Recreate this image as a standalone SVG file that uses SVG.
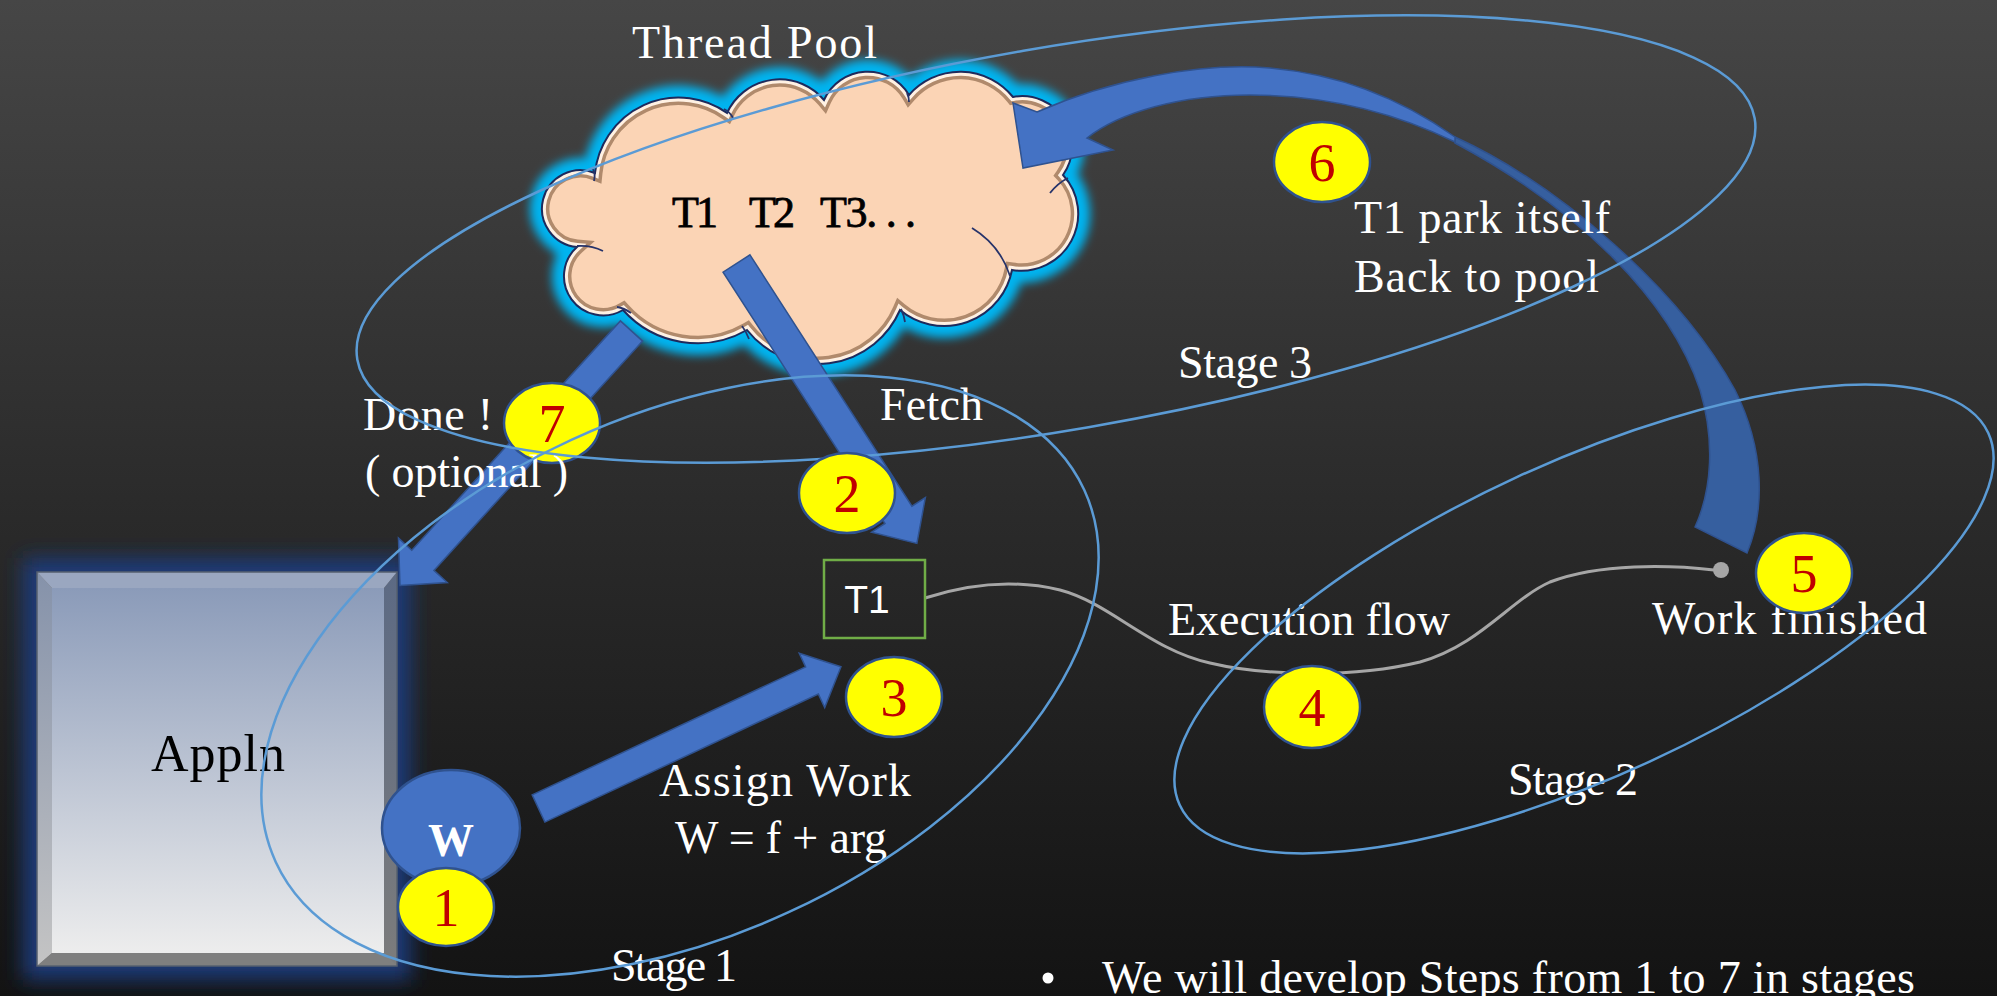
<svg xmlns="http://www.w3.org/2000/svg" width="1997" height="996" viewBox="0 0 1997 996">
<defs>
<linearGradient id="bg" x1="0" y1="0" x2="0" y2="1"><stop offset="0" stop-color="#464646"/><stop offset="0.5" stop-color="#2b2b2b"/><stop offset="1" stop-color="#131313"/></linearGradient>
<linearGradient id="face" x1="0" y1="0" x2="0" y2="1"><stop offset="0" stop-color="#8b9bb9"/><stop offset="1" stop-color="#ededed"/></linearGradient>
<linearGradient id="bevL" x1="0" y1="0" x2="0" y2="1"><stop offset="0" stop-color="#8592aa"/><stop offset="1" stop-color="#c4c4c4"/></linearGradient>
<linearGradient id="bevR" x1="0" y1="0" x2="0" y2="1"><stop offset="0" stop-color="#5c6a84"/><stop offset="1" stop-color="#7c7c7c"/></linearGradient>
<filter id="blur5" x="-20%" y="-20%" width="140%" height="140%"><feGaussianBlur stdDeviation="5"/></filter>
<filter id="blur10" x="-20%" y="-20%" width="140%" height="140%"><feGaussianBlur stdDeviation="10"/></filter>
<path id="cloudShape" d="M595,173 A84,84 0 0 1 727,113 A58,58 0 0 1 824,100 A48,48 0 0 1 909,95 A68,68 0 0 1 1013,97 A50,50 0 0 1 1063,175 A57,57 0 0 1 1012,270 A69,69 0 0 1 900,310 A90,90 0 0 1 747,330 A100,100 0 0 1 623,310 A39.2,39.2 0 0 1 577,247 A38.5,38.5 0 1 1 595,173 Z"/>
<clipPath id="cloudClip"><use href="#cloudShape"/></clipPath>
<style>
.lbl{font-family:"Liberation Serif","Times New Roman",serif;fill:#fff;font-size:46px}
.badge ellipse{fill:#ffff00;stroke:#2f528f;stroke-width:2.5}
.badge text{font-family:"Liberation Serif","Times New Roman",serif;font-size:54px;fill:#c00000;text-anchor:middle}
.blk{fill:#4472c4;stroke:#2f528f;stroke-width:1.5}
.stage{fill:none;stroke:#5b9bd5;stroke-width:2.5}
.tick{fill:none;stroke:#26336a;stroke-width:1.8}
</style>
</defs>
<rect width="1997" height="996" fill="url(#bg)"/>

<g id="appln">
<rect x="23" y="558" width="388" height="422" fill="#1d3a78" filter="url(#blur10)"/>
<rect x="37" y="572" width="360" height="394" fill="#7f7f7f"/>
<polygon points="37,572 397,572 384,588 52,588" fill="#9aa7c0"/>
<polygon points="37,572 52,588 52,953 37,966" fill="url(#bevL)"/>
<polygon points="397,572 397,966 384,953 384,588" fill="url(#bevR)"/>
<polygon points="37,966 52,953 384,953 397,966" fill="#7f7f7f"/>
<rect x="52" y="588" width="332" height="365" fill="url(#face)"/>
<rect x="37" y="572" width="360" height="394" fill="none" stroke="#56606f" stroke-width="1.5"/>
<text x="218" y="771" font-family="Liberation Serif, Times New Roman, serif" font-size="52" fill="#000" text-anchor="middle" textLength="134">Appln</text>
</g>

<g id="threadpool">
<use href="#cloudShape" fill="none" stroke="#00b4f0" stroke-width="24" filter="url(#blur5)"/>
<use href="#cloudShape" fill="#fbd4b5"/>
<g clip-path="url(#cloudClip)">
<use href="#cloudShape" fill="none" stroke="#b08a6c" stroke-width="15"/>
<use href="#cloudShape" fill="none" stroke="#fff1e3" stroke-width="8"/>
</g>
<use href="#cloudShape" fill="none" stroke="#1e2a5c" stroke-width="2"/>
<path class="tick" d="M972,228 Q1000,245 1010,276"/>
<path class="tick" d="M1050,193 Q1058,183 1068,178"/>
<path class="tick" d="M577,246 Q591,245 603,251"/>
<path class="tick" d="M617,307 Q624,308 631,313"/>
<path class="tick" d="M742,326 Q746,331 749,339"/>
<path class="tick" d="M901,309 Q904,315 905,322"/>
<path class="tick" d="M724,109 Q730,112 733,118"/>
<path class="tick" d="M907,93 Q909,97 909,102"/>
<path class="tick" d="M592,168 Q596,173 594,181"/>
<text x="672" y="227" font-family="Liberation Serif, Times New Roman, serif" font-size="44" fill="#000" stroke="#000" stroke-width="0.8" textLength="46">T1</text>
<text x="749" y="227" font-family="Liberation Serif, Times New Roman, serif" font-size="44" fill="#000" stroke="#000" stroke-width="0.8" textLength="46">T2</text>
<text x="820" y="227" font-family="Liberation Serif, Times New Roman, serif" font-size="44" fill="#000" stroke="#000" stroke-width="0.8" textLength="96">T3. . .</text>
<text class="lbl" x="632" y="58" font-size="48" textLength="245">Thread Pool</text>
</g>

<g id="connectors">
<polygon class="blk" transform="translate(736.5,263.5) rotate(57.2)" points="0,-16 299,-16 299,-32 333,0 299,32 299,16 0,16"/>
<polygon class="blk" transform="translate(538.5,808.5) rotate(-25.1)" points="0,-15 302,-15 302,-30 334,0 302,30 302,15 0,15"/>
<polygon class="blk" transform="translate(631.5,331) rotate(132.3)" points="0,-15 310,-15 310,-33 344,0 310,33 310,15 0,15"/>
<path d="M1455,137 C1560,185 1680,290 1735,390 C1765,450 1765,510 1747,553 L1695,527 C1712,490 1715,440 1700,390 C1670,300 1580,210 1455,143 Z" fill="#365f9f" stroke="#2f528f" stroke-width="1.5"/>
<path class="blk" d="M1037,112 C1110,80 1200,62 1270,68 C1350,75 1410,105 1455,137 L1455,142 C1400,115 1330,95 1250,95 C1180,95 1120,112 1087,138 L1113,150 L1023,168 L1013,103 Z"/>
<path d="M925,598 C965,585 1010,578 1060,590 C1110,603 1150,650 1210,663 C1260,675 1350,679 1420,662 C1480,645 1510,600 1550,582 C1600,563 1670,565 1714,570" fill="none" stroke="#a6a6a6" stroke-width="3"/>
<circle cx="1721" cy="570" r="8" fill="#a6a6a6"/>
</g>

<g id="t1box">
<rect x="824" y="560" width="101" height="78" fill="none" stroke="#70ad47" stroke-width="2.5"/>
<text x="867" y="613" font-family="Liberation Sans, Arial, sans-serif" font-size="39" fill="#fff" text-anchor="middle">T1</text>
</g>

<g id="work">
<ellipse cx="451" cy="828" rx="69" ry="58" fill="#4472c4" stroke="#2f528f" stroke-width="2.5"/>
<text x="451" y="856" font-family="Liberation Serif, Times New Roman, serif" font-size="46" font-weight="bold" fill="#fff" text-anchor="middle">W</text>
</g>

<g id="badge7" class="badge"><ellipse cx="552" cy="423" rx="48" ry="40"/><text x="552" y="442">7</text></g>

<g id="labels">
<text class="lbl" x="880" y="420" textLength="103">Fetch</text>
<text class="lbl" x="363" y="430" textLength="130">Done !</text>
<text class="lbl" x="365" y="487" textLength="203">( optional )</text>
<text class="lbl" x="659" y="796" textLength="252">Assign Work</text>
<text class="lbl" x="675" y="853" textLength="212">W = f + arg</text>
<text class="lbl" x="611" y="981" textLength="126">Stage 1</text>
<text class="lbl" x="1178" y="378" textLength="134">Stage 3</text>
<text class="lbl" x="1354" y="233" textLength="256">T1 park itself</text>
<text class="lbl" x="1354" y="292" textLength="245">Back to pool</text>
<text class="lbl" x="1168" y="635" textLength="282">Execution flow</text>
<text class="lbl" x="1652" y="634" textLength="275">Work finished</text>
<text class="lbl" x="1508" y="795" textLength="130">Stage 2</text>
<circle cx="1048" cy="978" r="5.5" fill="#fff"/>
<text class="lbl" x="1102" y="993" font-size="48" textLength="813">We will develop Steps from 1 to 7 in stages</text>
</g>

<g id="stages">
<ellipse class="stage" cx="1056" cy="239" rx="709" ry="191" transform="rotate(-9.8 1056 239)"/>
<ellipse class="stage" cx="680" cy="676" rx="445" ry="260" transform="rotate(-24.7 680 676)"/>
<ellipse class="stage" cx="1584" cy="619" rx="445" ry="157" transform="rotate(-24.7 1584 619)"/>
</g>

<g id="badge1" class="badge"><ellipse cx="446" cy="907" rx="48" ry="39"/><text x="446" y="926">1</text></g>
<g id="badge2" class="badge"><ellipse cx="847" cy="493" rx="48" ry="40"/><text x="847" y="512">2</text></g>
<g id="badge3" class="badge"><ellipse cx="894" cy="697" rx="48" ry="40"/><text x="894" y="716">3</text></g>
<g id="badge4" class="badge"><ellipse cx="1312" cy="707" rx="48" ry="41"/><text x="1312" y="726">4</text></g>
<g id="badge5" class="badge"><ellipse cx="1804" cy="573" rx="48" ry="40"/><text x="1804" y="592">5</text></g>
<g id="badge6" class="badge"><ellipse cx="1322" cy="162" rx="48" ry="40"/><text x="1322" y="181">6</text></g>
</svg>
